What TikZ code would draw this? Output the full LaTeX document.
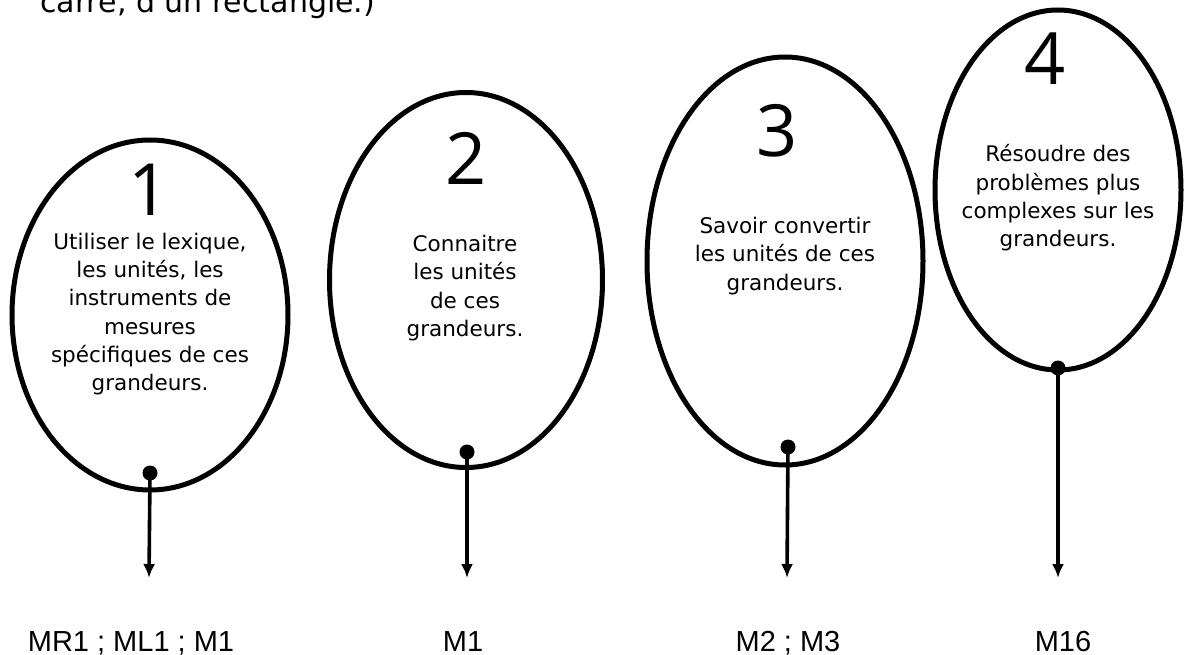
\documentclass[tikz,border=0pt]{standalone}
\usepackage{fontspec}
\setmainfont{DejaVu Sans}
\newfontfamily\labfont{Liberation Sans}
\newfontfamily\digfont{Open Sans}
\usetikzlibrary{shapes.geometric,arrows.meta}
\tikzset{
  bubble/.style={ellipse, draw=black, line width=5pt, inner sep=0pt},
  inner/.style={align=center, inner sep=0pt, font=\fontsize{21.5}{28.3}\selectfont},
  digit/.style={anchor=base, inner sep=0pt, font=\fontsize{72}{72}\digfont},
  dot/.style={circle, fill=black, inner sep=0pt, minimum size=15pt},
  link/.style={line width=3.6pt, -{Latex[length=14pt,width=12pt]}},
  lab/.style={anchor=base, inner sep=0pt, font=\fontsize{29}{29}\labfont},
}
\begin{document}
\begin{tikzpicture}[x=1pt,y=-1pt]
\useasboundingbox (0,0) rectangle (1187,655);
\node[anchor=base west, inner sep=0pt, font=\fontsize{30}{36}\selectfont] (head) at (40,13) {carré, d'un rectangle.)};

\node[bubble, minimum width=276pt, minimum height=350pt] (e1) at (150,315) {};
\node[bubble, minimum width=273pt, minimum height=375pt] (e2) at (466,280) {};
\node[bubble, minimum width=276pt, minimum height=408pt] (e3) at (785,261) {};
\node[bubble, minimum width=246pt, minimum height=360pt] (e4) at (1058,190) {};

\node[digit] (d1) at (149,216) {1};
\node[digit] (d2) at (466,185) {2};
\node[digit] (d3) at (777,157) {3};
\node[digit] (d4) at (1045,85) {4};

\node[inner] (t1) at (150,314) {Utiliser le lexique,\\les unités, les\\instruments de\\mesures\\spécifiques de ces\\grandeurs.};
\node[inner] (t2) at (465,288) {Connaitre\\les unités\\de ces\\grandeurs.};
\node[inner] (t3) at (785,256) {Savoir convertir\\les unités de ces\\grandeurs.};
\node[inner] (t4) at (1058,198) {Résoudre des\\problèmes plus\\complexes sur les\\grandeurs.};

\node[dot] (p1) at (150,473) {};
\node[dot] (p2) at (467,452) {};
\node[dot] (p3) at (788,447) {};
\node[dot] (p4) at (1058,368) {};

\coordinate (a1) at (149,578);
\coordinate (a2) at (467,578);
\coordinate (a3) at (787,578);
\coordinate (a4) at (1058,578);

\draw[link] (p1.center) -- (a1);
\draw[link] (p2.center) -- (a2);
\draw[link] (p3.center) -- (a3);
\draw[link] (p4.center) -- (a4);

\node[lab] (l1) at (131,651) {MR1 ; ML1 ; M1};
\node[lab] (l2) at (463,651) {M1};
\node[lab] (l3) at (788,651) {M2 ; M3};
\node[lab] (l4) at (1063,651) {M16};
\end{tikzpicture}
\end{document}
